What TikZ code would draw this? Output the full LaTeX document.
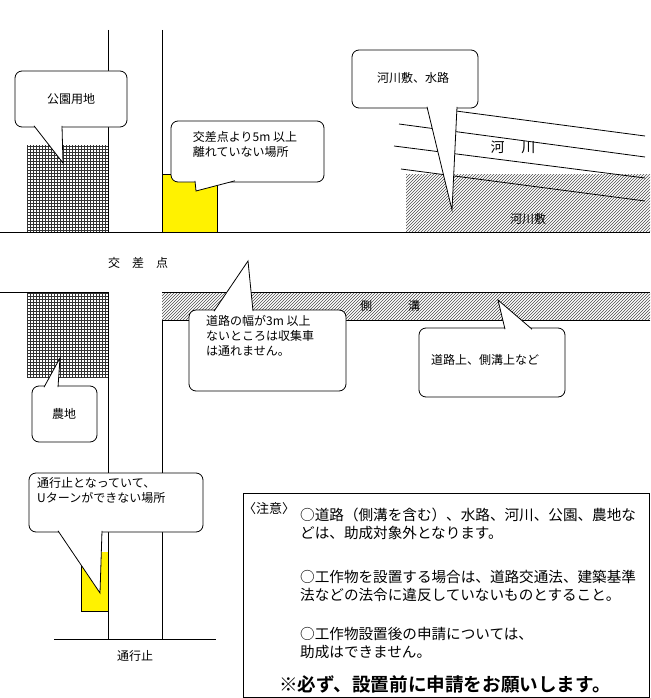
\documentclass[tikz,border=0pt]{standalone}
\usepackage{fontspec}
\setmainfont{Noto Sans CJK JP}
\newfontfamily\jpb{Noto Sans CJK JP Bold}
\usetikzlibrary{patterns}
% #6 = y of tail base, slightly inside the box
\newcommand{\bub}[9]{%
 \draw[fill=white,rounded corners=7pt,line width=0.8pt] (#1,#2) rectangle (#3,#4);
 \fill[white] (#5,#6) -- (#8,#9) -- (#7,#6) -- cycle;
 \draw[line width=0.8pt] (#5,#6) -- (#8,#9) -- (#7,#6);}
\begin{document}
\begin{tikzpicture}[x=1pt,y=-1pt,
  lbl/.style={font=\fontsize{12}{15}\selectfont,inner sep=0pt,align=left},
  note/.style={lbl,anchor=west,font=\fontsize{14.6}{18}\selectfont},
  ln/.style={line width=0.5pt}]
\useasboundingbox (0,0) rectangle (650,698);
% areas
\fill[pattern=grid,pattern color=black!80] (27,145) rectangle (108,232);
\fill[pattern=grid,pattern color=black!80] (27,292) rectangle (108,377);
\fill[yellow] (162,174) rectangle (217,232);
\fill[yellow] (81,552) rectangle (108,611);
\draw[ln] (162,174) -- (217,174) -- (217,232);
\draw[ln] (81,552) -- (81,611) -- (108,611);
\fill[pattern=north east lines,pattern color=black!70] (406,174) rectangle (650,232);
\fill[pattern=north east lines,pattern color=black!70] (162,292) rectangle (650,320);
\draw[ln] (162,320) -- (650,320);
% roads
\draw[ln] (108,30) -- (108,232); \draw[ln] (162,30) -- (162,232);
\draw[ln] (0,232) -- (650,232);
\draw[ln] (0,292) -- (108,292); \draw[ln] (162,292) -- (650,292);
\draw[ln] (108,292) -- (108,639); \draw[ln] (162,320) -- (162,639);
\draw[ln] (54,639) -- (216,639);
% river lines
\draw[line width=0.8pt] (456,111) -- (645,136);
\draw[line width=0.8pt] (399,124) -- (645,157);
\draw[line width=0.8pt] (394,146) -- (645,178);
\draw[line width=0.8pt] (401,169) -- (645,201);
\node[lbl,font=\fontsize{14}{16}\selectfont] (kasen) at (513,147) {河\hspace{1.2em}川};
\node[lbl] (kasenshiki) at (528,219) {河川敷};
\node[lbl] (kosaten) at (138,263) {交\hspace{1em}差\hspace{1em}点};
\node[lbl] (sokko) at (390,306) {側\hspace{3em}溝};
\node[lbl] (tsuko) at (135,656) {通行止};
% bubbles
\bub{15}{71}{127}{127}{34}{125.8}{62}{63}{163}
\node[lbl] (b1) at (71,99) {公園用地};
\bub{352}{50}{478}{108}{427}{106.8}{457}{452}{210}
\node[lbl] (b2) at (413,78) {河川敷、水路};
\bub{171}{121}{324}{182}{195}{180.8}{235}{196}{191}
\node[lbl] (b3) at (245,144) {交差点より5m 以上\\離れていない場所};
\bub{189}{310}{346}{391}{214}{311.2}{253}{248}{261}
\node[lbl,anchor=north west] (b4) at (206,315) {道路の幅が3m 以上\\ないところは収集車\\は通れません。};
\bub{419}{328}{565}{397}{505}{329.2}{532}{498}{300}
\node[lbl] (b5) at (485,360) {道路上、側溝上など};
\bub{32}{386}{97}{442}{44}{387.2}{58}{60}{358}
\node[lbl] (b6) at (64,414) {農地};
\bub{29}{473}{203}{532}{58}{530.8}{102}{100}{593}
\node[lbl,anchor=north west] (b7) at (37,477) {通行止となっていて、\\Uターンができない場所};
% note
\draw[line width=0.8pt] (243,493) rectangle (649,697);
\node[lbl,anchor=west,font=\fontsize{13}{15}\selectfont] (n0) at (243,509) {〈注意〉};
\node[note] (n1a) at (300,515) {○道路（側溝を含む）、水路、河川、公園、農地な};
\node[note] (n1b) at (300,533) {どは、助成対象外となります。};
\node[note] (n2a) at (300,577) {○工作物を設置する場合は、道路交通法、建築基準};
\node[note] (n2b) at (300,595) {法などの法令に違反していないものとすること。};
\node[note] (n3a) at (300,634) {○工作物設置後の申請については、};
\node[note] (n3b) at (300,652) {助成はできません。};
\node[lbl,font=\jpb\fontsize{18.6}{20}\selectfont] (n4) at (445,684) {※必ず、設置前に申請をお願いします。};
\end{tikzpicture}
\end{document}
